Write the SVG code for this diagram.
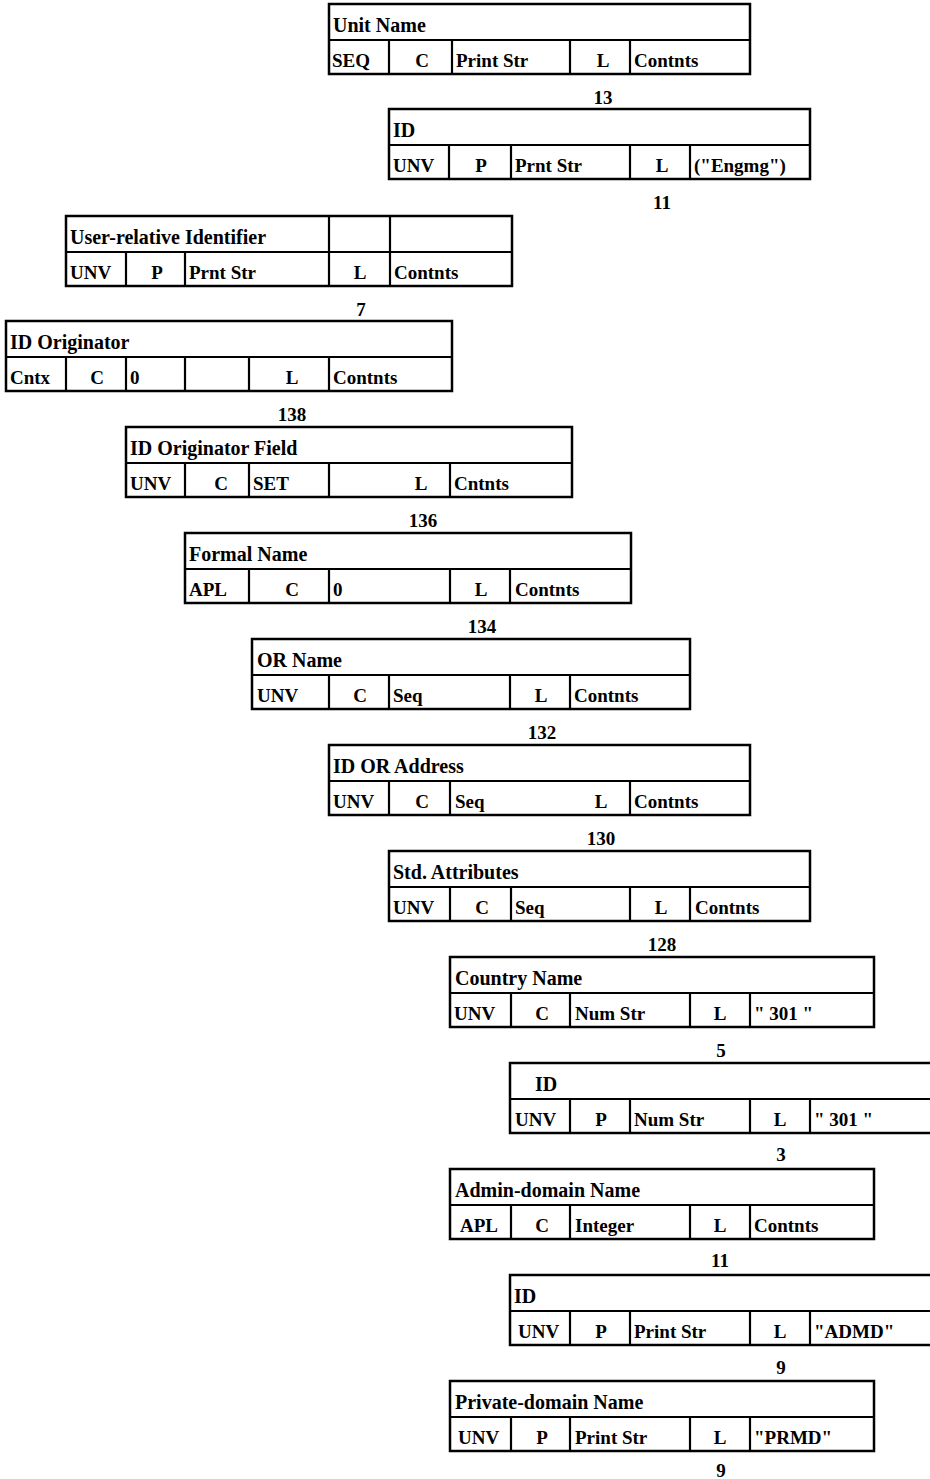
<svg xmlns="http://www.w3.org/2000/svg" width="930" height="1479" viewBox="0 0 930 1479">
<style>
rect.b{fill:#fff;stroke:#000;stroke-width:2.5}
line{stroke:#000;stroke-width:2.2}
text{font-family:"Liberation Serif","Times New Roman",serif;font-weight:bold;fill:#000}
.h{font-size:20px}
.f{font-size:19px}
.c{font-size:19px;text-anchor:middle}
.n{font-size:19px;text-anchor:middle}
</style>
<rect width="930" height="1479" fill="#fff"/>
<g id="connectors"></g>

<g id="unit-name">
<rect class="b" x="329" y="4" width="421" height="70"/>
<line x1="329" y1="40" x2="750" y2="40"/>
<line x1="389" y1="40" x2="389" y2="74"/><line x1="452" y1="40" x2="452" y2="74"/><line x1="570" y1="40" x2="570" y2="74"/><line x1="630" y1="40" x2="630" y2="74"/>
<text class="h" x="333" y="32">Unit Name</text>
<text class="f" x="332" y="67">SEQ</text><text class="c" x="422" y="67">C</text><text class="f" x="456" y="67">Print Str</text><text class="c" x="603" y="67">L</text><text class="f" x="634" y="67">Contnts</text>
<text class="n" x="603" y="104">13</text>
</g>

<g id="id-1">
<rect class="b" x="389" y="109" width="421" height="70"/>
<line x1="389" y1="145" x2="810" y2="145"/>
<line x1="449" y1="145" x2="449" y2="179"/><line x1="511" y1="145" x2="511" y2="179"/><line x1="630" y1="145" x2="630" y2="179"/><line x1="690" y1="145" x2="690" y2="179"/>
<text class="h" x="393" y="137">ID</text>
<text class="f" x="393" y="172">UNV</text><text class="c" x="481" y="172">P</text><text class="f" x="515" y="172">Prnt Str</text><text class="c" x="662" y="172">L</text><text class="f" x="694" y="172">("Engmg")</text>
<text class="n" x="662" y="209">11</text>
</g>

<g id="user-relative-identifier">
<rect class="b" x="66" y="216" width="446" height="70"/>
<line x1="66" y1="252" x2="512" y2="252"/>
<line x1="126" y1="252" x2="126" y2="286"/><line x1="185" y1="252" x2="185" y2="286"/><line x1="329" y1="216" x2="329" y2="286"/><line x1="390" y1="216" x2="390" y2="286"/>
<text class="h" x="70" y="244">User-relative Identifier</text>
<text class="f" x="70" y="279">UNV</text><text class="c" x="157" y="279">P</text><text class="f" x="189" y="279">Prnt Str</text><text class="c" x="360" y="279">L</text><text class="f" x="394" y="279">Contnts</text>
<text class="n" x="361" y="316">7</text>
</g>

<g id="id-originator">
<rect class="b" x="6" y="321" width="446" height="70"/>
<line x1="6" y1="357" x2="452" y2="357"/>
<line x1="66" y1="357" x2="66" y2="391"/><line x1="126" y1="357" x2="126" y2="391"/><line x1="185" y1="357" x2="185" y2="391"/><line x1="249" y1="357" x2="249" y2="391"/><line x1="329" y1="357" x2="329" y2="391"/>
<text class="h" x="10" y="349">ID Originator</text>
<text class="f" x="10" y="384">Cntx</text><text class="c" x="97" y="384">C</text><text class="f" x="130" y="384">0</text><text class="c" x="292" y="384">L</text><text class="f" x="333" y="384">Contnts</text>
<text class="n" x="292" y="421">138</text>
</g>

<g id="id-originator-field">
<rect class="b" x="126" y="427" width="446" height="70"/>
<line x1="126" y1="463" x2="572" y2="463"/>
<line x1="185" y1="463" x2="185" y2="497"/><line x1="249" y1="463" x2="249" y2="497"/><line x1="329" y1="463" x2="329" y2="497"/><line x1="450" y1="463" x2="450" y2="497"/>
<text class="h" x="130" y="455">ID Originator Field</text>
<text class="f" x="130" y="490">UNV</text><text class="c" x="221" y="490">C</text><text class="f" x="253" y="490">SET</text><text class="c" x="421" y="490">L</text><text class="f" x="454" y="490">Cntnts</text>
<text class="n" x="423" y="527">136</text>
</g>

<g id="formal-name">
<rect class="b" x="185" y="533" width="446" height="70"/>
<line x1="185" y1="569" x2="631" y2="569"/>
<line x1="249" y1="569" x2="249" y2="603"/><line x1="329" y1="569" x2="329" y2="603"/><line x1="450" y1="569" x2="450" y2="603"/><line x1="510" y1="569" x2="510" y2="603"/>
<text class="h" x="189" y="561">Formal Name</text>
<text class="f" x="189" y="596">APL</text><text class="c" x="292" y="596">C</text><text class="f" x="333" y="596">0</text><text class="c" x="481" y="596">L</text><text class="f" x="515" y="596">Contnts</text>
<text class="n" x="482" y="633">134</text>
</g>

<g id="or-name">
<rect class="b" x="252" y="639" width="438" height="70"/>
<line x1="252" y1="675" x2="690" y2="675"/>
<line x1="329" y1="675" x2="329" y2="709"/><line x1="389" y1="675" x2="389" y2="709"/><line x1="510" y1="675" x2="510" y2="709"/><line x1="570" y1="675" x2="570" y2="709"/>
<text class="h" x="257" y="667">OR Name</text>
<text class="f" x="257" y="702">UNV</text><text class="c" x="360" y="702">C</text><text class="f" x="393" y="702">Seq</text><text class="c" x="541" y="702">L</text><text class="f" x="574" y="702">Contnts</text>
<text class="n" x="542" y="739">132</text>
</g>

<g id="id-or-address">
<rect class="b" x="329" y="745" width="421" height="70"/>
<line x1="329" y1="781" x2="750" y2="781"/>
<line x1="389" y1="781" x2="389" y2="815"/><line x1="450" y1="781" x2="450" y2="815"/><line x1="630" y1="781" x2="630" y2="815"/>
<text class="h" x="333" y="773">ID OR Address</text>
<text class="f" x="333" y="808">UNV</text><text class="c" x="422" y="808">C</text><text class="f" x="455" y="808">Seq</text><text class="c" x="601" y="808">L</text><text class="f" x="634" y="808">Contnts</text>
<text class="n" x="601" y="845">130</text>
</g>

<g id="std-attributes">
<rect class="b" x="389" y="851" width="421" height="70"/>
<line x1="389" y1="887" x2="810" y2="887"/>
<line x1="450" y1="887" x2="450" y2="921"/><line x1="511" y1="887" x2="511" y2="921"/><line x1="630" y1="887" x2="630" y2="921"/><line x1="690" y1="887" x2="690" y2="921"/>
<text class="h" x="393" y="879">Std. Attributes</text>
<text class="f" x="393" y="914">UNV</text><text class="c" x="482" y="914">C</text><text class="f" x="515" y="914">Seq</text><text class="c" x="661" y="914">L</text><text class="f" x="695" y="914">Contnts</text>
<text class="n" x="662" y="951">128</text>
</g>

<g id="country-name">
<rect class="b" x="450" y="957" width="424" height="70"/>
<line x1="450" y1="993" x2="874" y2="993"/>
<line x1="511" y1="993" x2="511" y2="1027"/><line x1="570" y1="993" x2="570" y2="1027"/><line x1="690" y1="993" x2="690" y2="1027"/><line x1="750" y1="993" x2="750" y2="1027"/>
<text class="h" x="455" y="985">Country Name</text>
<text class="f" x="454" y="1020">UNV</text><text class="c" x="542" y="1020">C</text><text class="f" x="575" y="1020">Num Str</text><text class="c" x="720" y="1020">L</text><text class="f" x="754" y="1020">" 301 "</text>
<text class="n" x="721" y="1057">5</text>
</g>

<g id="id-2">
<rect class="b" x="510" y="1063" width="422" height="70"/>
<line x1="510" y1="1099" x2="932" y2="1099"/>
<line x1="570" y1="1099" x2="570" y2="1133"/><line x1="630" y1="1099" x2="630" y2="1133"/><line x1="750" y1="1099" x2="750" y2="1133"/><line x1="810" y1="1099" x2="810" y2="1133"/>
<text class="h" x="535" y="1091">ID</text>
<text class="f" x="515" y="1126">UNV</text><text class="c" x="601" y="1126">P</text><text class="f" x="634" y="1126">Num Str</text><text class="c" x="780" y="1126">L</text><text class="f" x="814" y="1126">" 301 "</text>
<text class="n" x="781" y="1161">3</text>
</g>

<g id="admin-domain-name">
<rect class="b" x="450" y="1169" width="424" height="70"/>
<line x1="450" y1="1205" x2="874" y2="1205"/>
<line x1="511" y1="1205" x2="511" y2="1239"/><line x1="570" y1="1205" x2="570" y2="1239"/><line x1="690" y1="1205" x2="690" y2="1239"/><line x1="750" y1="1205" x2="750" y2="1239"/>
<text class="h" x="455" y="1197">Admin-domain Name</text>
<text class="f" x="460" y="1232">APL</text><text class="c" x="542" y="1232">C</text><text class="f" x="575" y="1232">Integer</text><text class="c" x="720" y="1232">L</text><text class="f" x="754" y="1232">Contnts</text>
<text class="n" x="720" y="1267">11</text>
</g>

<g id="id-3">
<rect class="b" x="510" y="1275" width="422" height="70"/>
<line x1="510" y1="1311" x2="932" y2="1311"/>
<line x1="570" y1="1311" x2="570" y2="1345"/><line x1="630" y1="1311" x2="630" y2="1345"/><line x1="750" y1="1311" x2="750" y2="1345"/><line x1="810" y1="1311" x2="810" y2="1345"/>
<text class="h" x="514" y="1303">ID</text>
<text class="f" x="518" y="1338">UNV</text><text class="c" x="601" y="1338">P</text><text class="f" x="634" y="1338">Print Str</text><text class="c" x="780" y="1338">L</text><text class="f" x="814" y="1338">"ADMD"</text>
<text class="n" x="781" y="1374">9</text>
</g>

<g id="private-domain-name">
<rect class="b" x="450" y="1381" width="424" height="70"/>
<line x1="450" y1="1417" x2="874" y2="1417"/>
<line x1="511" y1="1417" x2="511" y2="1451"/><line x1="570" y1="1417" x2="570" y2="1451"/><line x1="690" y1="1417" x2="690" y2="1451"/><line x1="750" y1="1417" x2="750" y2="1451"/>
<text class="h" x="455" y="1409">Private-domain Name</text>
<text class="f" x="458" y="1444">UNV</text><text class="c" x="542" y="1444">P</text><text class="f" x="575" y="1444">Print Str</text><text class="c" x="720" y="1444">L</text><text class="f" x="754" y="1444">"PRMD"</text>
<text class="n" x="721" y="1477">9</text>
</g>
</svg>
